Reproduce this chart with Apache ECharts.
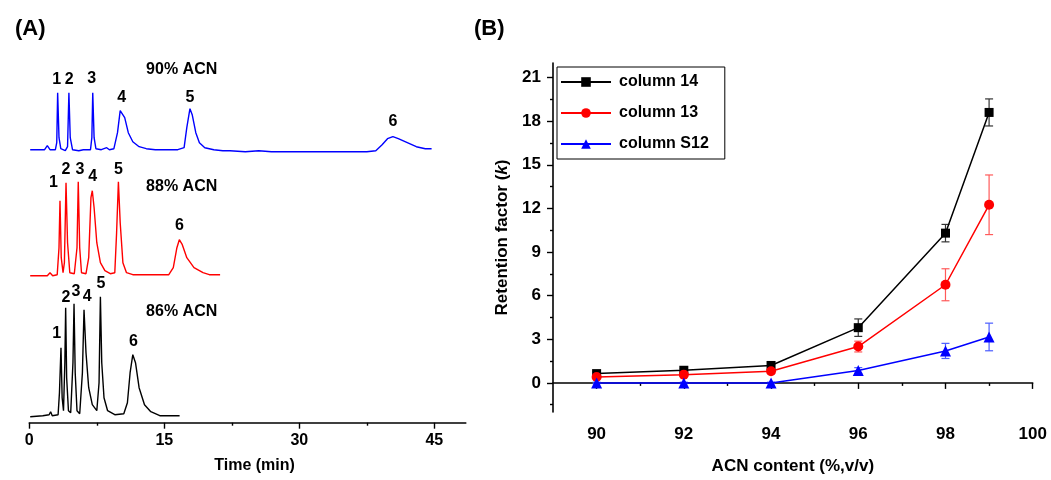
<!DOCTYPE html>
<html><head><meta charset="utf-8">
<script src="https://cdn.jsdelivr.net/npm/echarts@6/dist/echarts.min.js"></script>
<style>html,body{margin:0;padding:0;background:#fff}#c{width:1051px;height:480px}</style>
</head><body><div id="c"></div><script>
// ---------- Panel A: chromatograms (time in min, signal in arbitrary units) ----------
const timeTicks = [0, 15, 30, 45];
const timeMinorTicks = [7.5, 22.5, 37.5];
const trace90 = [[0.1,273],[1.7,273],[2.0,277],[2.3,273],[2.5,272],[2.9,273],[3.05,280],[3.15,330],[3.3,285],[3.5,274],[4.0,272],[4.25,276],[4.4,330],[4.55,285],[4.8,273],[5.0,272],[5.5,272],[6.0,273],[6.8,273],[6.95,285],[7.05,330],[7.2,285],[7.4,274],[8.0,273],[8.6,275],[8.9,273],[9.4,274],[9.8,290],[10.1,312],[10.3,314],[10.6,305],[11.0,290],[11.5,281],[12.2,276],[13,274],[14,273],[16.5,273],[17.2,275],[17.5,295],[17.85,314],[18.1,308],[18.5,290],[18.9,280],[19.5,275],[20.5,273],[21.5,272],[22.3,272],[22.4,270],[22.5,272],[24,271],[25.5,272],[26.9,271],[27.0,269],[27.1,271],[29,271],[31.5,271],[33.5,271],[33.6,269],[33.7,271],[36,271],[37.5,271],[38.5,272],[39.2,278],[39.8,284],[40.4,286],[41,284],[42,280],[43,276],[44,274],[44.7,274]];
const trace88 = [[0.1,147],[2.0,147],[2.3,150],[2.6,147],[3.1,148],[3.3,175],[3.41,222],[3.55,165],[3.75,150],[3.9,160],[4.08,240],[4.25,180],[4.5,150],[5.0,149],[5.3,175],[5.44,241],[5.6,175],[5.8,150],[6.3,149],[6.6,165],[6.85,225],[7.0,232],[7.2,215],[7.5,180],[7.9,160],[8.4,152],[9.0,149],[9.5,150],[9.7,190],[9.9,241],[10.1,200],[10.4,160],[10.8,150],[11.5,148],[13,148],[15.5,148],[16.0,155],[16.4,175],[16.67,183],[17.0,178],[17.5,165],[18.3,155],[19.3,150],[20,148],[21.2,148]];
const trace86 = [[0.1,6],[1.5,7],[2.2,8],[2.37,11],[2.55,7],[3.2,8],[3.35,30],[3.52,75],[3.65,25],[3.8,12],[3.95,60],[4.04,115],[4.15,45],[4.35,12],[4.6,10],[4.85,60],[4.97,119],[5.1,50],[5.3,12],[5.6,9],[5.9,50],[6.08,113],[6.3,70],[6.6,35],[7.0,18],[7.5,12],[7.75,40],[7.9,126],[8.05,60],[8.3,25],[8.7,12],[9.5,8],[10.5,9],[10.9,20],[11.2,50],[11.5,68],[11.8,60],[12.2,35],[12.8,18],[13.5,11],[14.5,7],[15.5,7],[16.7,7]];
const labels90 = [[3.05,343,'1'],[4.44,343,'2'],[6.93,344,'3'],[10.26,325,'4'],[17.86,325,'5'],[40.4,301,'6'],[16.93,353,'90% ACN']];
const labels88 = [[2.67,240,'1'],[4.08,253,'2'],[5.63,253,'3'],[7.04,246,'4'],[9.9,253,'5'],[16.67,197,'6'],[16.93,236,'88% ACN']];
const labels86 = [[3.04,89,'1'],[4.08,125,'2'],[5.19,131,'3'],[6.44,126,'4'],[7.97,139,'5'],[11.56,81,'6'],[16.93,111,'86% ACN']];

// ---------- Panel B: retention factor vs ACN content ----------
const acnContent = [90, 92, 94, 96, 98, 99];
const col14 = [0.64, 0.87, 1.2, 3.8, 10.3, 18.6];
const col14Err = [0.12, 0.12, 0.15, 0.6, 0.6, 0.93];
const col13 = [0.41, 0.57, 0.8, 2.5, 6.75, 12.25];
const col13Err = [0.1, 0.1, 0.12, 0.37, 1.1, 2.05];
const colS12 = [0, 0, 0, 0.85, 2.2, 3.16];
const colS12Err = [0.05, 0.05, 0.05, 0.2, 0.52, 0.95];
const kTicks = [0, 3, 6, 9, 12, 15, 18, 21];
const kMinorTicks = [-1.5, 1.5, 4.5, 7.5, 10.5, 13.5, 16.5, 19.5];
const acnTicks = [90, 92, 94, 96, 98, 100];
const acnMinorTicks = [91, 93, 95, 97, 99];

const FONT = "'Liberation Sans', Arial, sans-serif";
const chart = echarts.init(document.getElementById('c'));

function pairs(xs, ys) { return xs.map((x, i) => [x, ys[i]]); }
function triples(xs, ys, es) { return xs.map((x, i) => [x, ys[i], es[i]]); }
function labelData(arr) { return arr.map(a => ({ value: [a[0], a[1]], name: a[2] })); }

function labelSeries(arr) {
  return {
    type: 'scatter', xAxisIndex: 0, yAxisIndex: 0, silent: true,
    symbolSize: 1, itemStyle: { color: 'rgba(255,255,255,0)', opacity: 1 },
    data: labelData(arr),
    label: { show: true, position: 'inside', formatter: '{b}', color: '#000', textBorderWidth: 0, opacity: 1,
      fontFamily: FONT, fontWeight: 'bold', fontSize: 16 },
    z: 5
  };
}
function traceSeries(data, color) {
  return { type: 'line', xAxisIndex: 0, yAxisIndex: 0, data, showSymbol: false, symbol: 'none',
    lineStyle: { color, width: 1.4 }, silent: true, animation: false };
}
function errSeries(data, color) {
  return {
    type: 'custom', xAxisIndex: 2, yAxisIndex: 1, data, silent: true, z: 1,
    renderItem: function (params, api) {
      const x = api.value(0), y = api.value(1), e = api.value(2);
      const t = api.coord([x, y + e]), b = api.coord([x, y - e]);
      const w = 4;
      const st = { stroke: color, lineWidth: 1.2 };
      return { type: 'group', children: [
        { type: 'line', shape: { x1: t[0], y1: t[1], x2: b[0], y2: b[1] }, style: st },
        { type: 'line', shape: { x1: t[0] - w, y1: t[1], x2: t[0] + w, y2: t[1] }, style: st },
        { type: 'line', shape: { x1: b[0] - w, y1: b[1], x2: b[0] + w, y2: b[1] }, style: st }
      ]};
    }
  };
}
function kSeries(name, data, color, symbol, size) {
  return { name, type: 'line', xAxisIndex: 2, yAxisIndex: 1, data, symbol, symbolSize: size,
    lineStyle: { color, width: 1.5 }, itemStyle: { color }, z: 3, animation: false };
}

const axisLineStyle = { lineStyle: { color: '#000', width: 1.6 } };

chart.setOption({
  animation: false,
  textStyle: { fontFamily: FONT },
  title: [
    { text: '(A)', left: 10, top: 13, textStyle: { fontFamily: FONT, fontSize: 22, fontWeight: 'bold', color: '#000' } },
    { text: '(B)', left: 469, top: 13, textStyle: { fontFamily: FONT, fontSize: 22, fontWeight: 'bold', color: '#000' } }
  ],
  legend: {
    left: 557, top: 67, orient: 'vertical',
    data: ['column 14', 'column 13', 'column S12'],
    itemWidth: 50, itemHeight: 12, itemGap: 15,
    padding: [7, 16, 7, 3],
    borderColor: '#000', borderWidth: 1,
    textStyle: { fontFamily: FONT, fontSize: 16, fontWeight: 'bold', color: '#000', padding: [0, 0, 0, 3] }
  },
  grid: [
    { left: 29.3, right: 585.2, top: 22.7, bottom: 57.3 },
    { left: 553, right: 18.3, top: 63, bottom: 65 }
  ],
  xAxis: [
    { type: 'value', gridIndex: 0, min: 0, max: 48.5, position: 'bottom',
      name: 'Time (min)', nameLocation: 'middle', nameGap: 35,
      nameTextStyle: { fontFamily: FONT, fontSize: 16, fontWeight: 'bold', color: '#000', padding: [0, 0, 0, 14] },
      axisLine: axisLineStyle, splitLine: { show: false },
      axisTick: { customValues: timeTicks, length: 6, lineStyle: { color: '#000', width: 1.4 } },
      axisLabel: { customValues: timeTicks, margin: 10, fontFamily: FONT, fontSize: 16, fontWeight: 'bold', color: '#000' } },
    { type: 'value', gridIndex: 0, min: 0, max: 48.5, position: 'bottom',
      axisLine: { show: false }, splitLine: { show: false }, axisLabel: { show: false },
      axisTick: { customValues: timeMinorTicks, length: 3, lineStyle: { color: '#000', width: 1.4 } } },
    { type: 'value', gridIndex: 1, min: 89, max: 100, position: 'bottom',
      name: 'ACN content (%,v/v)', nameLocation: 'middle', nameGap: 46,
      nameTextStyle: { fontFamily: FONT, fontSize: 17, fontWeight: 'bold', color: '#000' },
      axisLine: axisLineStyle, splitLine: { show: false },
      axisTick: { customValues: acnTicks, length: 6, lineStyle: { color: '#000', width: 1.4 } },
      axisLabel: { customValues: acnTicks, margin: 14, fontFamily: FONT, fontSize: 17, fontWeight: 'bold', color: '#000' } },
    { type: 'value', gridIndex: 1, min: 89, max: 100, position: 'bottom',
      axisLine: { show: false }, splitLine: { show: false }, axisLabel: { show: false },
      axisTick: { customValues: acnMinorTicks, length: 3, lineStyle: { color: '#000', width: 1.4 } } }
  ],
  yAxis: [
    { type: 'value', gridIndex: 0, min: 0, max: 400, show: false, splitLine: { show: false } },
    { type: 'value', gridIndex: 1, min: -2, max: 22, position: 'left',
      name: '{a|Retention factor (}{b|k}{a|)}', nameLocation: 'middle', nameGap: 42,
      nameTextStyle: { rich: {
        a: { fontFamily: FONT, fontSize: 17, fontWeight: 'bold', color: '#000' },
        b: { fontFamily: FONT, fontSize: 17, fontWeight: 'bold', fontStyle: 'italic', color: '#000' } } },
      axisLine: axisLineStyle, splitLine: { show: false },
      axisTick: { customValues: kTicks, length: 6, lineStyle: { color: '#000', width: 1.4 } },
      axisLabel: { customValues: kTicks, margin: 12, fontFamily: FONT, fontSize: 17, fontWeight: 'bold', color: '#000' } },
    { type: 'value', gridIndex: 1, min: -2, max: 22, position: 'left',
      axisLine: { show: false }, splitLine: { show: false }, axisLabel: { show: false },
      axisTick: { customValues: kMinorTicks, length: 3, lineStyle: { color: '#000', width: 1.4 } } }
  ],
  series: [
    traceSeries(trace90, '#0000ff'),
    traceSeries(trace88, '#ff0000'),
    traceSeries(trace86, '#000000'),
    labelSeries(labels90),
    labelSeries(labels88),
    labelSeries(labels86),
    errSeries(triples(acnContent, col14, col14Err), '#333333'),
    errSeries(triples(acnContent, col13, col13Err), '#ff5a5a'),
    errSeries(triples(acnContent, colS12, colS12Err), '#4a5cff'),
    kSeries('column 14', pairs(acnContent, col14), '#000000', 'rect', 9),
    kSeries('column 13', pairs(acnContent, col13), '#ff0000', 'circle', 10),
    kSeries('column S12', pairs(acnContent, colS12), '#0000ff', 'triangle', 11)
  ]
});
</script></body></html>
